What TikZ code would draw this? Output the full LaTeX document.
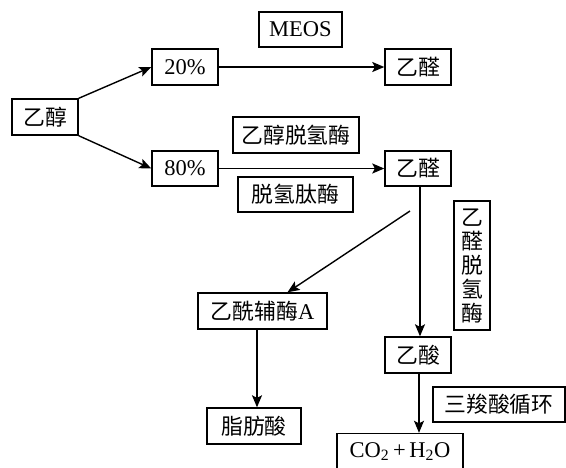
\documentclass[tikz,border=0pt]{standalone}
\usepackage{fontspec}
\setmainfont{Liberation Serif}
\newfontfamily\cjk{Noto Sans CJK SC}[Scale=0.97]
\usetikzlibrary{arrows.meta}
\begin{document}
\begin{tikzpicture}[x=1pt,y=-1pt,
  box/.style={draw, line width=1.4pt, inner sep=0pt, align=center,
    font=\fontsize{22.5}{24}\selectfont},
  arr/.style={line width=1.4pt, -{Stealth[length=12pt,width=10pt,inset=2.5pt]}},
  conn/.style={line width=1.4pt}]
\useasboundingbox (0,0) rectangle (566,467);
\clip (0,0) rectangle (566,467);

% substances and enzymes
\node[box, minimum width=66pt, minimum height=36pt] (etoh)   at (45,117)    {\cjk 乙醇};
\node[box, minimum width=66pt, minimum height=36pt] (p20)    at (185,67)    {20\%};
\node[box, minimum width=83pt, minimum height=35pt] (meos)   at (300.5,29.5) {MEOS};
\node[box, minimum width=66pt, minimum height=36pt] (ald1)   at (418,67)    {\cjk 乙醛};
\node[box, minimum width=66pt, minimum height=35pt] (p80)    at (185,168.5) {80\%};
\node[box, minimum width=126pt, minimum height=36pt] (adh)   at (296,135)   {\cjk 乙醇脱氢酶};
\node[box, minimum width=66pt, minimum height=35pt] (ald2)   at (418,168.5) {\cjk 乙醛};
\node[box, minimum width=115pt, minimum height=35pt] (dhp)   at (295.5,194.5) {\cjk 脱氢肽酶};
\node[box, minimum width=36pt, minimum height=129pt] (aldh)  at (472,265.5)
  {\cjk 乙\\\cjk 醛\\\cjk 脱\\\cjk 氢\\\cjk 酶};
\node[box, minimum width=129pt, minimum height=36pt] (acoa)  at (262.5,311) {{\cjk 乙酰辅酶}A};
\node[box, minimum width=66pt, minimum height=36pt] (acetic) at (418,355)   {\cjk 乙酸};
\node[box, minimum width=94pt, minimum height=36pt] (fatty)  at (254,426)   {\cjk 脂肪酸};
\node[box, minimum width=132pt, minimum height=35pt] (tca)   at (499,404.5) {\cjk 三羧酸循环};
\node[box, minimum width=126pt, minimum height=36pt] (co2)   at (400,451.5)
  {CO\textsubscript{2}\,+\,H\textsubscript{2}O};

% branch point of the acetyl-CoA route
\coordinate (branch) at (410,211);

% pathways
\draw[arr] (etoh.north east) -- (p20.west);
\draw[arr] (etoh.south east) -- (p80.west);
\draw[arr] (p20.east) -- (ald1.west);
\draw[arr] (p80.east) -- (ald2.west);
\draw[arr] ([xshift=2pt]ald2.south) -- ([xshift=2pt]acetic.north);
\draw[arr] (branch) -- ([xshift=25pt]acoa.north);
\draw[arr] ([xshift=-5.5pt]acoa.south) -- ([xshift=-5.5pt]acoa.south |- fatty.north);
\draw[arr] ([xshift=1pt]acetic.south) -- ([xshift=1pt]acetic.south |- co2.north);
\end{tikzpicture}
\end{document}
